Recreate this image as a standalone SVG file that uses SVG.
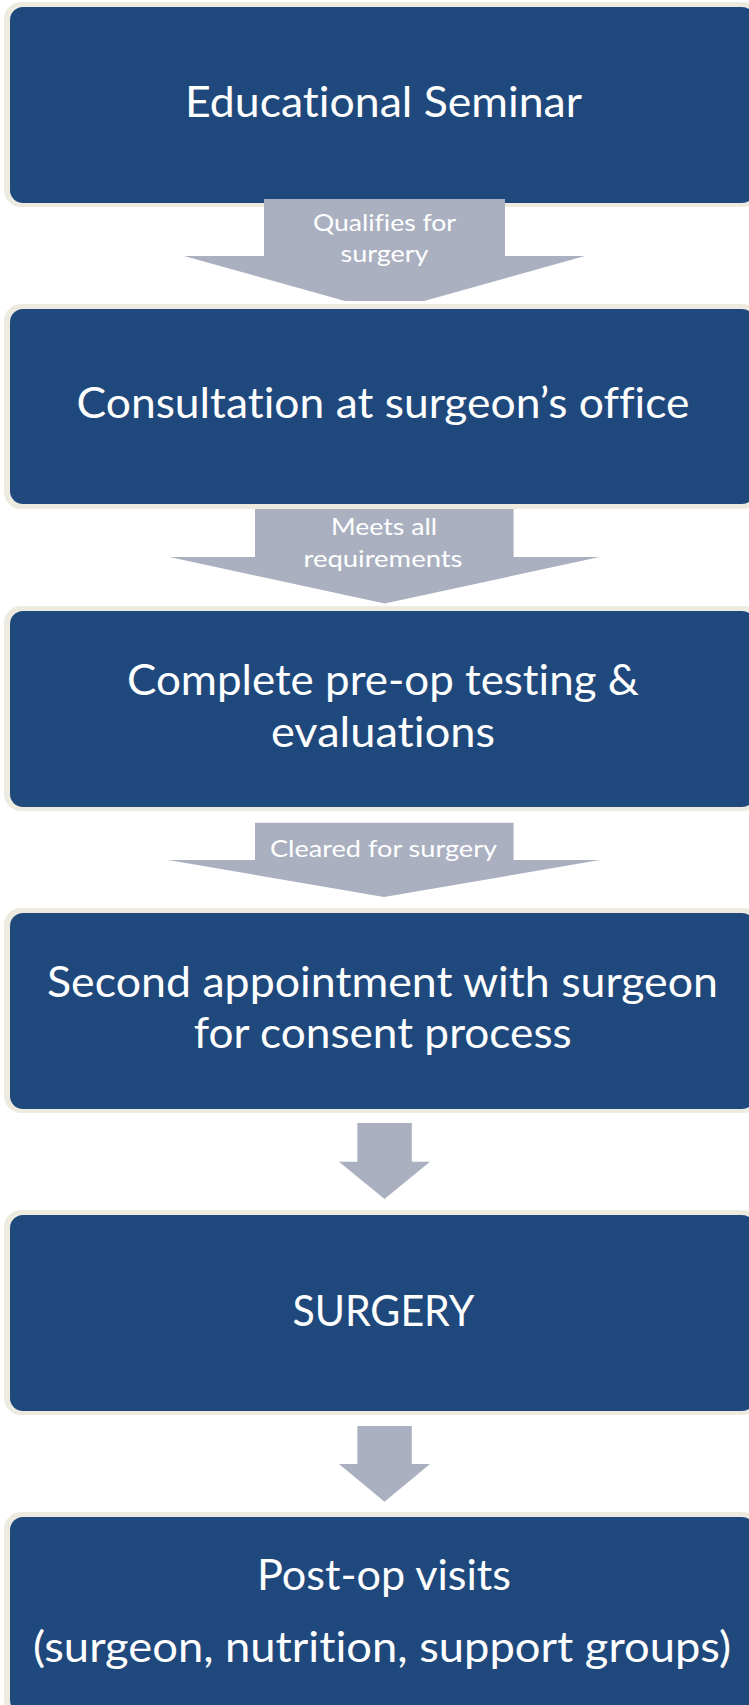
<svg xmlns="http://www.w3.org/2000/svg" width="749" height="1705" viewBox="0 0 749 1705">
<style>
.frame{fill:#edebe0}
.box{fill:#1f497d}
.arrow{fill:#aab0bf}
.main{font-family:Lato,"Open Sans","Liberation Sans",sans-serif;font-size:43px;fill:#ffffff;text-anchor:middle;font-variant-ligatures:none}
.lbl{font-family:Lato,"Open Sans","Liberation Sans",sans-serif;font-size:24px;fill:#ffffff;text-anchor:middle;font-variant-ligatures:none}
</style>
<rect width="749" height="1705" fill="#ffffff"/>
<g id="node1">
<rect class="frame" x="4" y="2" width="756" height="205" rx="17"/>
<rect class="box" x="10" y="7" width="745" height="196" rx="13"/>
<text class="main" x="383.5" y="116.7" textLength="397" lengthAdjust="spacingAndGlyphs">Educational Seminar</text>
</g>
<g id="node2">
<rect class="frame" x="4" y="304" width="756" height="205" rx="17"/>
<rect class="box" x="10" y="309" width="745" height="195" rx="13"/>
<text class="main" x="383" y="418" textLength="613" lengthAdjust="spacingAndGlyphs">Consultation at surgeon’s office</text>
</g>
<g id="node3">
<rect class="frame" x="4" y="606" width="756" height="205" rx="17"/>
<rect class="box" x="10" y="611" width="745" height="196" rx="13"/>
<text class="main" x="383" y="695" textLength="512" lengthAdjust="spacingAndGlyphs">Complete pre-op testing &amp;</text>
<text class="main" x="383" y="747" textLength="224" lengthAdjust="spacingAndGlyphs">evaluations</text>
</g>
<g id="node4">
<rect class="frame" x="4" y="908" width="756" height="205" rx="17"/>
<rect class="box" x="10" y="913" width="745" height="196" rx="13"/>
<text class="main" x="382.5" y="997" textLength="671" lengthAdjust="spacingAndGlyphs">Second appointment with surgeon</text>
<text class="main" x="382.7" y="1048" textLength="378" lengthAdjust="spacingAndGlyphs">for consent process</text>
</g>
<g id="node5">
<rect class="frame" x="4" y="1210" width="756" height="205" rx="17"/>
<rect class="box" x="10" y="1215" width="745" height="196" rx="13"/>
<text class="main" x="383.4" y="1326" textLength="182" lengthAdjust="spacingAndGlyphs">SURGERY</text>
</g>
<g id="node6">
<rect class="frame" x="4" y="1512" width="756" height="205" rx="17"/>
<rect class="box" x="10" y="1517" width="745" height="196" rx="13"/>
<text class="main" x="384" y="1590" textLength="254" lengthAdjust="spacingAndGlyphs">Post-op visits</text>
<text class="main" x="382" y="1662" textLength="698" lengthAdjust="spacingAndGlyphs">(surgeon, nutrition, support groups)</text>
</g>
<g id="connectors">
<g id="arrow1">
<polygon class="arrow" points="264,199 505,199 505,256 585,256 424,301 345,301 184,256 264,256"/>
<text class="lbl" x="384.5" y="230.7" textLength="143" lengthAdjust="spacingAndGlyphs">Qualifies for</text>
<text class="lbl" x="384.5" y="261.7" textLength="88" lengthAdjust="spacingAndGlyphs">surgery</text>
</g>
<g id="arrow2">
<polygon class="arrow" points="255,509 513.6,509 513.6,557 599.6,557 384.6,603.5 169.6,557 255,557"/>
<text class="lbl" x="384" y="535" textLength="106" lengthAdjust="spacingAndGlyphs">Meets all</text>
<text class="lbl" x="383" y="566.7" textLength="159" lengthAdjust="spacingAndGlyphs">requirements</text>
</g>
<g id="arrow3">
<polygon class="arrow" points="255,822.7 513.6,822.7 513.6,860 600,860 384,897 168,860 255,860"/>
<text class="lbl" x="383.5" y="856.7" textLength="227" lengthAdjust="spacingAndGlyphs">Cleared for surgery</text>
</g>
<g id="arrow4">
<polygon class="arrow" points="357.4,1123 411.8,1123 411.8,1161.7 430,1161.7 384.5,1199 339,1161.7 357.4,1161.7"/>
</g>
<g id="arrow5">
<polygon class="arrow" points="357.4,1426 411.8,1426 411.8,1464 430,1464 384.5,1501.7 339,1464 357.4,1464"/>
</g>
</g>
</svg>
